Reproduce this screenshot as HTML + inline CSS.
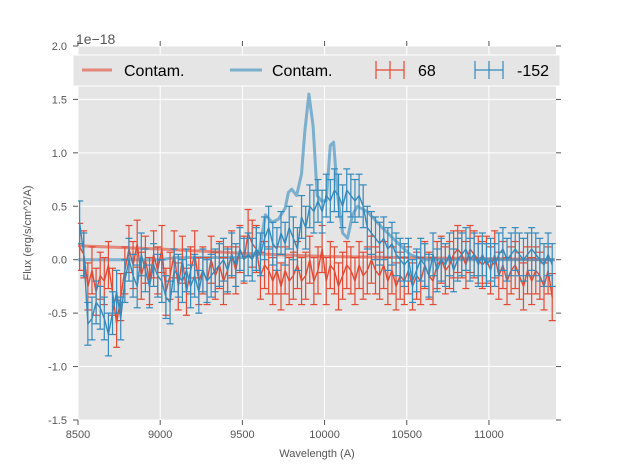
<!DOCTYPE html>
<html><head><meta charset="utf-8"><style>
body{margin:0;background:#fff;}
svg{display:block;font-family:"Liberation Sans","DejaVu Sans",sans-serif;}
</style></head><body>
<svg id="chart" width="617" height="467" viewBox="0 0 617 467" xmlns="http://www.w3.org/2000/svg">
<rect x="0" y="0" width="617" height="467" fill="#fff"/>
<rect x="78" y="46" width="478" height="374" fill="#E5E5E5"/>
<g id="grid"></g>
<g id="ticks"></g>
<clipPath id="clip"><rect x="78" y="46" width="478" height="374"/></clipPath>
<g id="series" clip-path="url(#clip)"></g>
<text x="76" y="44" font-size="14" fill="#555">1e−18</text>
<text x="317" y="457" font-size="11" fill="#555" text-anchor="middle">Wavelength (A)</text>
<text transform="translate(31,233) rotate(-90)" font-size="11" fill="#555" text-anchor="middle">Flux (erg/s/cm^2/A)</text>
<g>
<rect x="73" y="55" width="487" height="31" fill="#E5E5E5" stroke="#fff" stroke-width="1"/>
<g>
<line x1="82" y1="70" x2="112" y2="70" stroke="#E24A33" stroke-opacity="0.6" stroke-width="3"/>
<text x="124" y="76" font-size="16" fill="#000">Contam.</text></g>
<g>
<line x1="230" y1="70" x2="262" y2="70" stroke="#348ABD" stroke-opacity="0.6" stroke-width="3"/>
<text x="272" y="76" font-size="16" fill="#000">Contam.</text></g>
<g stroke="#E24A33" stroke-width="1.2">
<line x1="376" y1="70" x2="404" y2="70"/><line x1="390" y1="61" x2="390" y2="79"/>
<line x1="376" y1="61" x2="376" y2="79"/><line x1="404" y1="61" x2="404" y2="79"/>
<text x="418" y="76" font-size="16" fill="#000" stroke="none">68</text></g>
<g stroke="#348ABD" stroke-width="1.2">
<line x1="475" y1="70" x2="503" y2="70"/><line x1="489" y1="61" x2="489" y2="79"/>
<line x1="475" y1="61" x2="475" y2="79"/><line x1="503" y1="61" x2="503" y2="79"/>
<text x="517" y="76" font-size="16" fill="#000" stroke="none">-152</text></g>
</g>
</svg>
<script>
const xTicks=[8500,9000,9500,10000,10500,11000];
const yTicks=[-1.5,-1.0,-0.5,0.0,0.5,1.0,1.5,2.0];
const yTickLabels=["-1.5","-1.0","-0.5","0.0","0.5","1.0","1.5","2.0"];
const waveStart=8510, waveStep=25;
const flux68=[0.12,0.05,-0.25,-0.1,-0.3,-0.15,-0.2,-0.05,-0.3,-0.6,
-0.35,-0.1,0.1,-0.05,0.15,-0.15,0.0,-0.2,0.05,-0.1,
0.1,-0.3,-0.15,0.05,-0.25,0.0,-0.3,-0.1,0.05,-0.2,
-0.1,-0.2,0.0,-0.15,-0.05,-0.2,-0.1,0.05,-0.1,0.1,
0.0,0.25,0.15,0.1,-0.15,-0.05,-0.1,-0.2,-0.1,-0.25,
-0.1,-0.2,-0.15,-0.05,-0.2,-0.15,0.0,-0.2,-0.1,0.1,
-0.2,-0.05,-0.1,-0.25,-0.15,-0.05,-0.1,-0.2,-0.05,-0.15,
-0.1,0.0,-0.1,-0.15,-0.05,-0.2,-0.1,-0.25,-0.15,-0.2,
-0.1,-0.25,-0.15,-0.2,-0.05,-0.15,-0.2,-0.05,0.0,-0.1,
-0.05,0.05,0.1,0.05,-0.05,0.1,0.05,0.0,-0.05,0.0,
-0.1,0.05,-0.15,-0.05,-0.2,-0.1,-0.05,-0.15,-0.25,-0.1,
-0.2,-0.1,-0.15,-0.25,-0.1,-0.35];
const flux152=[0.35,0.05,-0.6,-0.55,-0.4,-0.45,-0.55,-0.7,-0.5,-0.3,
-0.55,-0.2,0.0,-0.15,-0.25,0.05,-0.1,-0.25,-0.05,-0.15,
-0.2,-0.35,-0.4,-0.1,-0.15,-0.2,-0.1,-0.25,-0.15,-0.3,
-0.1,-0.2,-0.15,-0.1,-0.05,0.0,-0.1,0.05,-0.05,0.1,
0.0,0.05,0.0,0.1,0.05,0.2,0.3,0.15,0.1,0.25,
0.15,0.3,0.2,0.1,0.4,0.3,0.5,0.45,0.55,0.45,
0.6,0.55,0.65,0.6,0.5,0.65,0.6,0.55,0.6,0.5,
0.3,0.25,0.2,0.15,0.2,0.1,0.15,0.05,0.0,-0.05,
0.0,-0.2,-0.1,0.0,-0.05,-0.15,0.05,-0.1,0.0,-0.05,
0.05,-0.1,0.0,0.05,0.1,0.0,0.05,-0.05,0.05,-0.05,
0.0,-0.05,0.05,0.1,0.0,0.05,0.1,0.05,0.0,0.05,
0.1,0.05,0.0,-0.05,0.05,-0.05];
const err68=0.22, err152=0.2;
const contam68Wave=[8500,9000,9500,10000,10500,11000,11400];
const contam68Flux=[0.13,0.1,0.06,0.03,0.02,0.01,0.0];
const contam152Wave=[8500,9000,9100,9500,9600,9640,9680,9720,9760,9780,9800,9830,9860,9880,9905,9930,9955,9980,10010,10035,10055,10080,10110,10140,10170,10200,10260,10350,10450,10520,10600,11000,11400];
const contam152Flux=[0.0,0.0,0.02,0.02,0.05,0.42,0.35,0.38,0.48,0.63,0.66,0.6,0.8,1.2,1.55,1.25,0.6,0.55,0.55,1.07,1.1,0.6,0.25,0.2,0.42,0.5,0.45,0.3,0.15,0.05,0.0,0.0,0.0];

const NS="http://www.w3.org/2000/svg";
const X=v=>78+(v-8500)*(478/2908);
const Y=v=>259.7-v*106.86;
const svg=document.getElementById('chart');
const grid=document.getElementById('grid'), ticks=document.getElementById('ticks'), ser=document.getElementById('series');
function mk(tag,parent,attrs){const e=document.createElementNS(NS,tag);for(const k in attrs)e.setAttribute(k,attrs[k]);parent.appendChild(e);return e;}
xTicks.forEach(t=>{
  const x=X(t);
  const g=mk('line',grid,{x1:x,x2:x,y1:46,y2:420,stroke:'#fff','stroke-width':1});
  
  
  mk('line',ticks,{x1:x,x2:x,y1:420,y2:425,stroke:'#555'});
  mk('line',ticks,{x1:x,x2:x,y1:41,y2:46,stroke:'#555'});
  const tx=mk('text',ticks,{x:x,y:438,'font-size':11,fill:'#555','text-anchor':'middle'});
  tx.textContent=t;
  
  
});
yTicks.forEach((t,i)=>{
  const y=Y(t);
  const g=mk('line',grid,{x1:78,x2:556,y1:y,y2:y,stroke:'#fff','stroke-width':1});
  
  
  mk('line',ticks,{x1:73,x2:78,y1:y,y2:y,stroke:'#555'});
  mk('line',ticks,{x1:556,x2:561,y1:y,y2:y,stroke:'#555'});
  const tx=mk('text',ticks,{x:67,y:y+4,'font-size':11,fill:'#555','text-anchor':'end'});
  tx.textContent=yTickLabels[i];
  
  
});
function line(ws,fs,color,w,op,name){
  const d=ws.map((wv,i)=>(i?'L':'M')+X(wv).toFixed(1)+' '+Y(fs[i]).toFixed(1)).join('');
  const p=mk('path',ser,{d:d,fill:'none',stroke:color,'stroke-width':w,'stroke-opacity':op,'stroke-linejoin':'round'});
  
  
}
function errSeries(fl,err,color,name){
  const ws=fl.map((_,i)=>waveStart+waveStep*i);
  const g=mk('g',ser,{stroke:color,'stroke-width':1.2,fill:'none'});
  
  
  fl.forEach((v,i)=>{
    const x=X(ws[i]);
    mk('line',g,{x1:x,x2:x,y1:Y(v-err),y2:Y(v+err)});
    mk('line',g,{x1:x-3.5,x2:x+3.5,y1:Y(v-err),y2:Y(v-err)});
    mk('line',g,{x1:x-3.5,x2:x+3.5,y1:Y(v+err),y2:Y(v+err)});
  });
  line(ws,fl,color,1.4,1,name+'-line');
}
line(contam68Wave,contam68Flux,'#E24A33',3,0.6,'contam-68-line');
line(contam152Wave,contam152Flux,'#348ABD',3,0.6,'contam-152-line');
errSeries(flux68,err68,'#E24A33','series-68');
errSeries(flux152,err152,'#348ABD','series-152');
</script>
</body></html>
